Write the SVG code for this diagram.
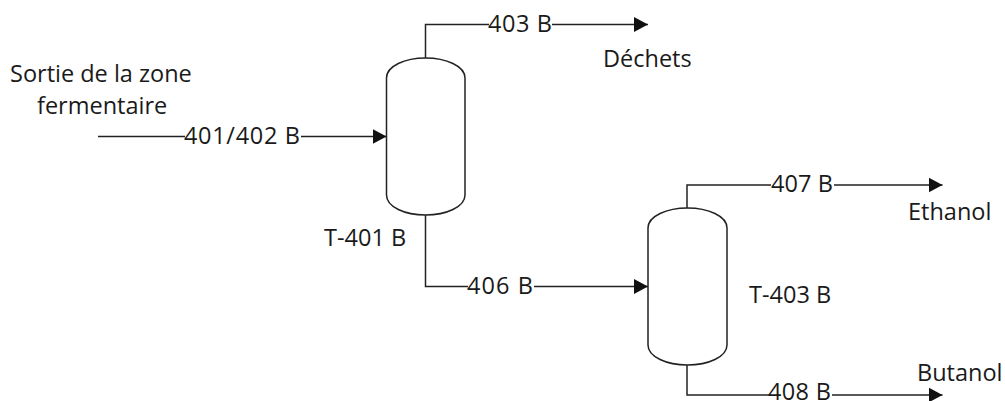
<svg xmlns="http://www.w3.org/2000/svg" width="1005" height="401" viewBox="0 0 1005 401">
<style>
.l{font-family:"Open Sans","Liberation Sans",sans-serif;font-size:23.5px;fill:#1a1a1a}
.c{fill:none;stroke:#222;stroke-width:1.5}
.v{fill:#fff;stroke:#222;stroke-width:1.5}
</style>
<defs><marker id="a" markerUnits="userSpaceOnUse" markerWidth="15" markerHeight="16" refX="14" refY="8" orient="auto"><path d="M0 0.500L14 8L0 15.500Z" fill="#111"/></marker></defs>
<rect width="1005" height="401" fill="#fff"/>
<g id="connectors">
<path class="c" d="M425.500 58V24.500H648" marker-end="url(#a)"/>
<path class="c" d="M98 136.500H386.500" marker-end="url(#a)"/>
<path class="c" d="M425.500 215V286.500H648" marker-end="url(#a)"/>
<path class="c" d="M687 208V185H942.500" marker-end="url(#a)"/>
<path class="c" d="M687 365V395H942.500" marker-end="url(#a)"/>
</g>
<g id="T-401"><path class="v" d="M386.500 78C386.500 66 405 58 425.500 58C446 58 465 66 465 78V195C465 207 446 215 425.500 215C405 215 386.500 207 386.500 195Z"/></g>
<g id="T-403"><path class="v" d="M648 228C648 216 667 208 687.500 208C708 208 727 216 727 228V345C727 357 708 365 687.500 365C667 365 648 357 648 345Z"/></g>
<g id="labels">
<rect x="489" y="14" width="63" height="20" fill="#fff"/><text class="l" x="488" y="32" textLength="64">403 B</text>
<rect x="185" y="126" width="116" height="20" fill="#fff"/><text class="l" x="184" y="144" textLength="116">401/402 B</text>
<rect x="468" y="277" width="66" height="20" fill="#fff"/><text class="l" x="467" y="294" textLength="66">406 B</text>
<rect x="771" y="175" width="63" height="20" fill="#fff"/><text class="l" x="771" y="192" textLength="62">407 B</text>
<rect x="769" y="385" width="63" height="16" fill="#fff"/><text class="l" x="768" y="400" textLength="63">408 B</text>
<text class="l" x="603" y="67">Déchets</text>
<text class="l" x="10" y="82">Sortie de la zone</text>
<text class="l" x="37" y="114">fermentaire</text>
<text class="l" x="324" y="246">T-401 B</text>
<text class="l" x="749" y="303">T-403 B</text>
<text class="l" x="908" y="220">Ethanol</text>
<text class="l" x="917" y="381">Butanol</text>
</g>
</svg>
